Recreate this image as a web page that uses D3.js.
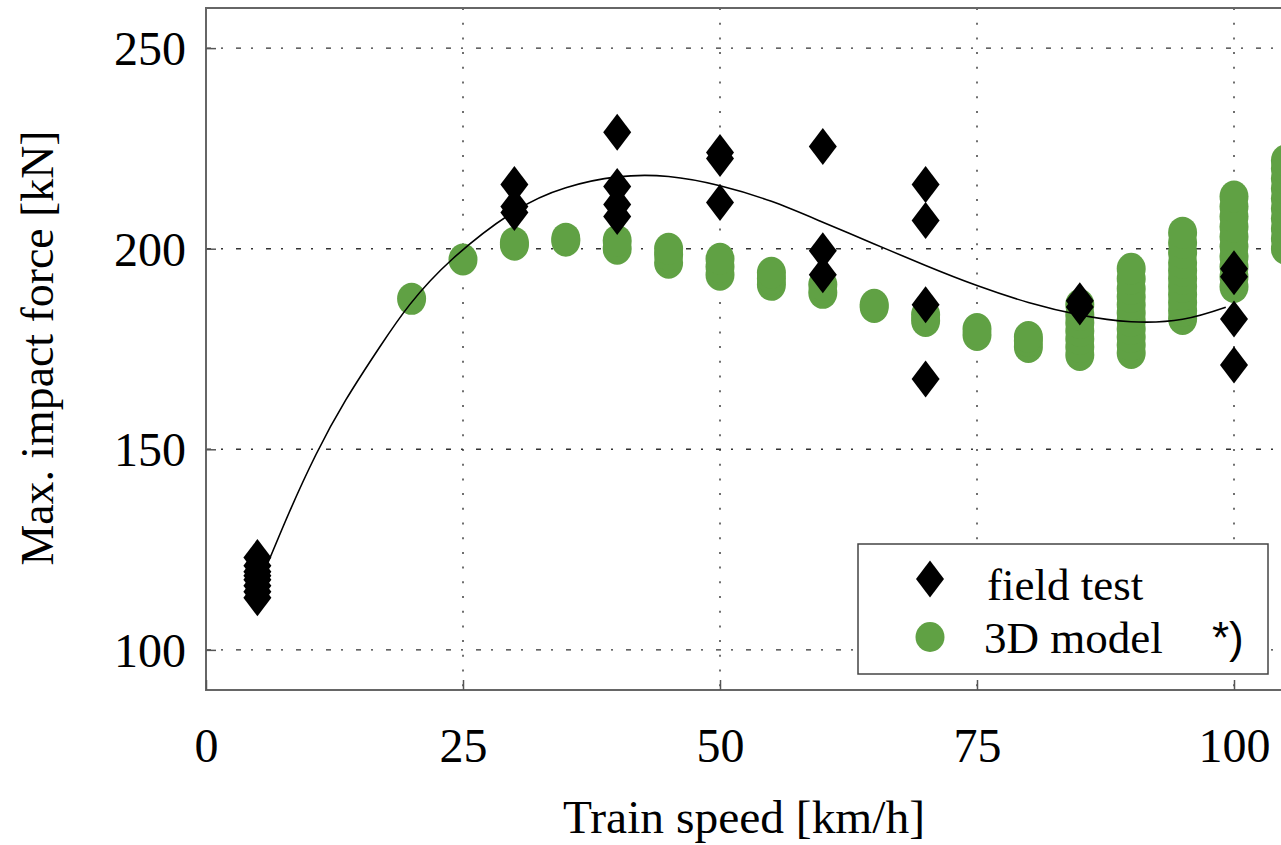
<!DOCTYPE html>
<html>
<head>
<meta charset="utf-8">
<script src="https://cdn.jsdelivr.net/npm/d3@7"></script>
<style>
  html, body { margin: 0; padding: 0; background: white; }
  svg { display: block; }
</style>
</head>
<body>
<div id="root"></div>
<script>
// values: [speed km/h, force kN]
const fieldTest = [
  [5, 113], [5, 114.5], [5, 116], [5, 117.5], [5, 118.5], [5, 119.5], [5, 121], [5, 123],
  [30, 209], [30, 210.5], [30, 216],
  [40, 208], [40, 211], [40, 215.5], [40, 229],
  [50, 211.5], [50, 222.5], [50, 224],
  [60, 193.5], [60, 199.5], [60, 225.5],
  [70, 167.5], [70, 186], [70, 207], [70, 216],
  [85, 185.5], [85, 187],
  [100, 171], [100, 182.5], [100, 193], [100, 195],
];

const model3D = [
  [20, 187.5],
  [25, 197.3],
  [30, 201], [30, 201.5],
  [35, 202], [35, 202.5],
  [40, 200], [40, 202],
  [45, 196.5], [45, 198.5], [45, 200],
  [50, 193.5], [50, 195.5], [50, 197.5],
  [55, 191], [55, 192.5], [55, 194],
  [60, 189], [60, 191],
  [65, 185.5], [65, 186],
  [70, 182], [70, 183.5],
  [75, 178.5], [75, 180],
  [80, 175.5], [80, 177], [80, 178],
  [85, 173.5], [85, 175.5], [85, 177.5], [85, 179.5], [85, 181.5], [85, 183.5], [85, 186],
  [90, 174], [90, 176], [90, 178], [90, 180], [90, 182], [90, 184], [90, 186], [90, 188], [90, 190], [90, 192.5], [90, 195],
  [95, 182.5], [95, 184.5], [95, 186.5], [95, 188.5], [95, 190.5], [95, 192.5], [95, 194.5], [95, 196.5], [95, 199], [95, 201.5], [95, 204],
  [100, 190.5], [100, 193], [100, 195.5], [100, 198], [100, 200.5], [100, 203], [100, 205.5], [100, 208], [100, 210.5], [100, 213],
  [105, 200], [105, 202.5], [105, 205], [105, 207.5], [105, 210], [105, 212.5], [105, 215], [105, 217.5], [105, 220], [105, 222],
];

// fitted curve
const fitSpeed = [5, 6.2, 8.1, 10.7, 13.6, 16.9, 19.8, 24, 30, 35, 40, 45, 50, 55, 60, 65, 70, 75, 80, 85, 90, 95, 99.2];
const fitForce = [116, 122.8, 134.3, 148.7, 162.3, 175.5, 186, 197.5, 209.3, 215.2, 217.9, 218, 215.7, 211.8, 206.6, 201.2, 195.8, 190.8, 186.6, 183.5, 181.8, 182.4, 185.4];

const xTicks = [0, 25, 50, 75, 100];
const yTicks = [100, 150, 200, 250];
const legendLabels = ["field test", "3D model"];

const W = 1281, H = 845;
const plotLeft = 206, plotTop = 8, plotBottom = 690, plotRight = 1320; // plot runs off the right edge
const green = "#60a144";
const serif = "'Liberation Serif', 'Times New Roman', serif";

const x = d3.scaleLinear().domain([0, 100]).range([plotLeft, 1234]);
const y = d3.scaleLinear().domain([90, 260]).range([plotBottom, plotTop]);

const svg = d3.select("#root").append("svg")
  .attr("width", W).attr("height", H)
  .attr("viewBox", `0 0 ${W} ${H}`);

// grid
const grid = svg.append("g");
grid.selectAll("line.v").data(xTicks.filter(d => d > 0)).join("line")
  .attr("class", "v")
  .attr("x1", d => x(d)).attr("x2", d => x(d))
  .attr("y1", plotTop).attr("y2", plotBottom)
  .attr("stroke", "#333").attr("stroke-width", 1.4)
  .attr("stroke-dasharray", "2,12.7");
grid.selectAll("line.h").data(yTicks).join("line")
  .attr("class", "h")
  .attr("x1", plotLeft).attr("x2", plotRight)
  .attr("y1", d => y(d)).attr("y2", d => y(d))
  .attr("stroke", "#333").attr("stroke-width", 1.4)
  .attr("stroke-dasharray", "5,10,2,13");

// 3D model
svg.append("g").selectAll("ellipse").data(model3D).join("ellipse")
  .attr("cx", d => x(d[0])).attr("cy", d => y(d[1]))
  .attr("rx", 14.5).attr("ry", 16)
  .attr("fill", green);

// field test diamonds
const diamond = (w, h) => `M0,${-h / 2}L${w / 2},0L0,${h / 2}L${-w / 2},0Z`;
svg.append("g").selectAll("path").data(fieldTest).join("path")
  .attr("transform", d => `translate(${x(d[0])},${y(d[1])})`)
  .attr("d", diamond(28, 37))
  .attr("fill", "black");

// fitted curve
const line = d3.line()
  .x((d, i) => x(fitSpeed[i]))
  .y(d => y(d))
  .curve(d3.curveNatural);
svg.append("path")
  .attr("d", line(fitForce))
  .attr("fill", "none").attr("stroke", "black").attr("stroke-width", 1.6);

// frame and ticks
svg.append("rect")
  .attr("x", plotLeft).attr("y", plotTop)
  .attr("width", plotRight - plotLeft).attr("height", plotBottom - plotTop)
  .attr("fill", "none").attr("stroke", "#666").attr("stroke-width", 2);

const xAxis = d3.axisBottom(x).tickValues(xTicks).tickSize(-10).tickFormat(d3.format("d")).tickPadding(38);
svg.append("g").attr("transform", `translate(0,${plotBottom})`).call(xAxis)
  .call(g => g.select(".domain").remove())
  .call(g => g.selectAll("line").attr("stroke", "#555").attr("stroke-width", 1.5))
  .call(g => g.selectAll("text").attr("font-family", serif).attr("font-size", 48).attr("fill", "black"));

const yAxis = d3.axisLeft(y).tickValues(yTicks).tickSize(-10).tickFormat(d3.format("d")).tickPadding(20);
svg.append("g").attr("transform", `translate(${plotLeft},0)`).call(yAxis)
  .call(g => g.select(".domain").remove())
  .call(g => g.selectAll("line").attr("stroke", "#555").attr("stroke-width", 1.5))
  .call(g => g.selectAll("text").attr("font-family", serif).attr("font-size", 48).attr("fill", "black").attr("dy", "0.34em"));

// axis titles
svg.append("text")
  .attr("x", 744).attr("y", 833)
  .attr("text-anchor", "middle")
  .attr("font-family", serif).attr("font-size", 46)
  .attr("textLength", 362).attr("lengthAdjust", "spacingAndGlyphs")
  .text("Train speed [km/h]");

svg.append("text")
  .attr("transform", "translate(53,348) rotate(-90)")
  .attr("text-anchor", "middle")
  .attr("font-family", serif).attr("font-size", 46)
  .attr("textLength", 435).attr("lengthAdjust", "spacingAndGlyphs")
  .text("Max. impact force [kN]");

// legend
const legend = svg.append("g");
legend.append("rect")
  .attr("x", 858).attr("y", 544).attr("width", 410).attr("height", 130)
  .attr("fill", "white").attr("stroke", "#444").attr("stroke-width", 1.5);
legend.append("path")
  .attr("transform", "translate(930,579)")
  .attr("d", diamond(28, 37)).attr("fill", "black");
legend.append("ellipse")
  .attr("cx", 930).attr("cy", 637).attr("rx", 14.5).attr("ry", 15)
  .attr("fill", green);
legend.selectAll("text.lab").data(legendLabels).join("text")
  .attr("class", "lab")
  .attr("x", (d, i) => i === 0 ? 987 : 984)
  .attr("y", (d, i) => i === 0 ? 600 : 653)
  .attr("font-family", serif).attr("font-size", 45)
  .text(d => d);
legend.append("text")
  .attr("x", 1212).attr("y", 653)
  .attr("font-family", "'Liberation Sans', Arial, sans-serif").attr("font-size", 44)
  .text("*)");
</script>
</body>
</html>
